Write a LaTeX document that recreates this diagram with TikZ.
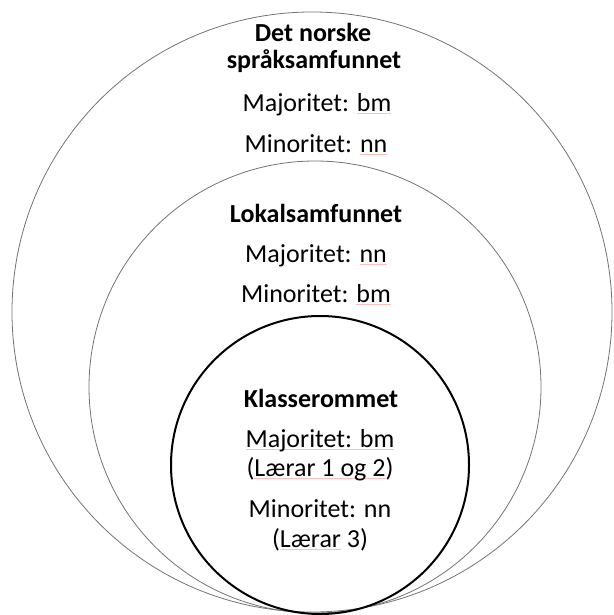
\documentclass[tikz,border=0pt]{standalone}
\usepackage{fontspec}
\setmainfont{Carlito}
\usetikzlibrary{positioning}

% raud strek under ord, som stavekontrollen
\newsavebox{\ordboks}
\newcommand{\stavefeil}[1]{\sbox{\ordboks}{#1}\rlap{\color{red!25}\rule[-2.5pt]{\wd\ordboks}{0.6pt}}\usebox{\ordboks}}

\tikzset{
	krins/.style={draw=black!55, line width=0.8pt},
	indrekrins/.style={draw=black, line width=2pt},
	tekst/.style={font=\fontsize{26}{28}\selectfont, anchor=base, inner sep=0pt},
	overskrift/.style={tekst, font=\fontsize{26}{28}\selectfont\bfseries},
}

\begin{document}
\begin{tikzpicture}[x=1pt, y=-1pt]
	\useasboundingbox (0,0) rectangle (613,615);
	% Sirklar
		\draw[krins] (312,312) circle[radius=300pt];
		\draw[krins] (315,387) circle[radius=226pt];
		\draw[indrekrins] (320,465) circle[radius=149pt];

	% Det norske språksamfunnet
		\node[overskrift] (norsk) at (313,42) {Det norske};
		\node[overskrift] (norskb) at (314,69) {språksamfunnet};
		\node[tekst] (norskmaj) at (317,111) {Majoritet: \stavefeil{bm}};
		\node[tekst] (norskmin) at (316,152) {Minoritet: \stavefeil{nn}};

	% Lokalsamfunnet
		\node[overskrift] (lokal) at (316,222) {Lokalsamfunnet};
		\node[tekst] (lokalmaj) at (316,262) {Majoritet: \stavefeil{nn}};
		\node[tekst] (lokalmin) at (316,302) {Minoritet: \stavefeil{bm}};

	% Klasserommet
		\node[overskrift] (klasse) at (321,407) {Klasserommet};
		\node[tekst] (klassemaj) at (320,447) {\stavefeil{Majoritet: bm}};
		\node[tekst] (klassemajb) at (320,476) {(\stavefeil{Lærar 1 og 2})};
		\node[tekst] (klassemin) at (320,517) {Minoritet: nn};
		\node[tekst] (klasseminb) at (320,547) {(\stavefeil{Lærar} 3)};
\end{tikzpicture}
\end{document}
